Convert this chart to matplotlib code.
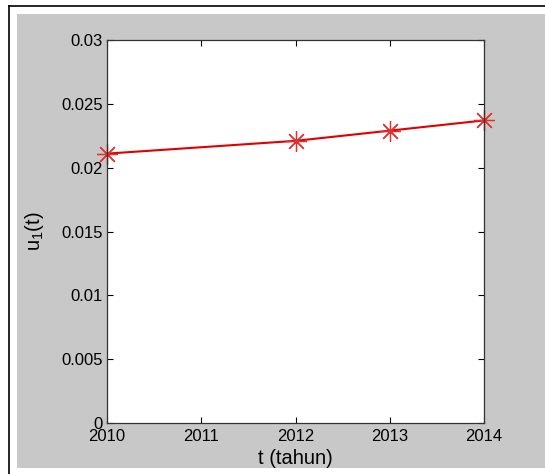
import matplotlib
matplotlib.use("Agg")
import matplotlib.pyplot as plt
from matplotlib.patches import Rectangle
from matplotlib.lines import Line2D

years = [2010, 2012, 2013, 2014]
u1 = [0.0211, 0.0221, 0.0229, 0.0237]
xticks = [2010, 2011, 2012, 2013, 2014]
yticks = [0, 0.005, 0.01, 0.015, 0.02, 0.025, 0.03]
yticklabels = ["0", "0.005", "0.01", "0.015", "0.02", "0.025", "0.03"]

plt.rcParams['font.family'] = ['Liberation Sans', 'DejaVu Sans']
plt.rcParams['mathtext.fontset'] = 'custom'
plt.rcParams['mathtext.rm'] = 'Liberation Sans'
plt.rcParams['mathtext.it'] = 'Liberation Sans'

W, H = 545, 474
fig = plt.figure(figsize=(W/100, H/100), dpi=100, facecolor='white')

# gray figure panel
fig.patches.append(Rectangle((17/W, 1-468/H), 1-17/W, (468-14)/H,
                             transform=fig.transFigure, facecolor='#c8c8c8',
                             edgecolor='none', zorder=-10))
# black frame lines
fig.lines.append(Line2D([9/W, 9/W], [0, 1-6/H], transform=fig.transFigure,
                        color='black', lw=1.2, zorder=-5))
fig.lines.append(Line2D([9/W, 1], [1-6/H, 1-6/H], transform=fig.transFigure,
                        color='black', lw=1.2, zorder=-5))

ax = fig.add_axes([107/W, 1-423/H, (484-107)/W, (423-40)/H])
ax.set_zorder(1)
ax.set_facecolor('white')
ax.plot(years, u1, color='#e00000', lw=1.5, marker=(8, 2, 0),
        markersize=15, markeredgewidth=0.9, markeredgecolor='#e03030',
        clip_on=False)

ax.set_xlim(2010, 2014)
ax.set_ylim(0, 0.03)
ax.set_xticks(xticks)
ax.set_xticklabels([str(x) for x in xticks])
ax.set_yticks(yticks)
ax.set_yticklabels(yticklabels)
ax.tick_params(direction='in', top=True, right=True, length=4, width=0.8,
               labelsize=12, colors='black', pad=3)
ax.tick_params(axis='x', pad=4)
for s in ax.spines.values():
    s.set_color('#333333')
    s.set_linewidth(0.9)

ax.set_xlabel('t (tahun)', fontsize=14.5, labelpad=4)
ax.set_ylabel(r'u$_1$(t)', fontsize=14.5, labelpad=11)

fig.savefig('out.png', dpi=100, facecolor='white')
